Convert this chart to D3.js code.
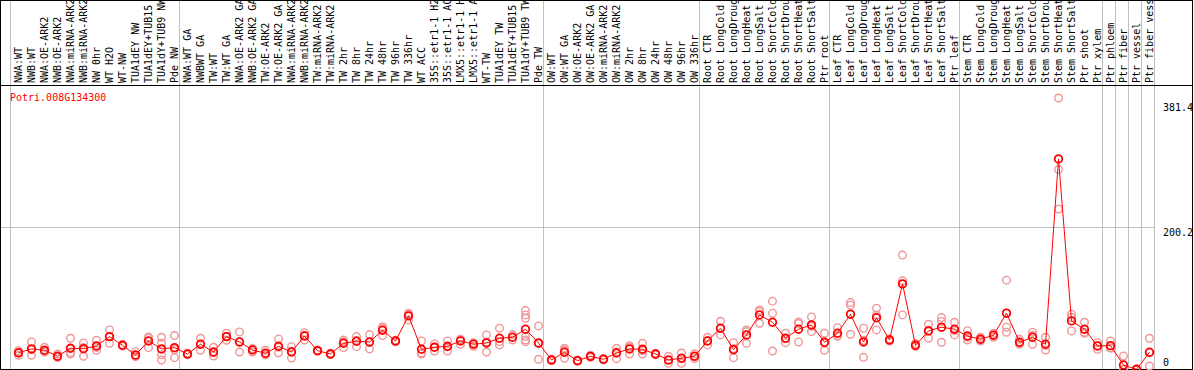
<!DOCTYPE html>
<html>
<head>
<meta charset="utf-8">
<script src="https://cdn.jsdelivr.net/npm/d3@7"></script>
<style>
  body { margin: 0; background: #fff; }
  svg { display: block; }
  text { font-family: "DejaVu Sans Mono", monospace; font-size: 10px; }
</style>
</head>
<body>
<div id="chart"></div>
<script>
const gene = "Potri.008G134300";

// sample groups, in the order they are drawn
const groupNW = ["NWA:WT", "NWB:WT", "NWA:OE-ARK2", "NWB:OE-ARK2", "NWA:miRNA-ARK2", "NWB:miRNA-ARK2",
    "NW 0hr", "WT H2O", "WT-NW", "TUA1dEY NW", "TUA1dEY+TUB15 NW", "TUA1dY+TUB9 NW", "Pde NW"];
const groupTW = ["NWA:WT GA", "NWBWT GA", "TW:WT", "TW:WT GA", "NWA:OE-ARK2 GA", "NWB:OE-ARK2 GA",
    "TW:OE-ARK2", "TW:OE-ARK2 GA", "NWA:miRNA-ARK2", "NWB:miRNA-ARK2", "TW:miRNA-ARK2", "TW:miRNA-ARK2",
    "TW 2hr", "TW 8hr", "TW 24hr", "TW 48hr", "TW 96hr", "TW 336hr", "WT ACC",
    "35S::etr1-1 H2O", "35S::etr1-1 ACC", "LMX5::etr1-1 H2O", "LMX5::etr1-1 ACC",
    "WT-TW", "TUA1dEY TW", "TUA1dEY+TUB15 TW", "TUA1dY+TUB9 TW", "Pde TW"];
const groupOW = ["OW:WT", "OW:WT GA", "OW:OE-ARK2", "OW:OE-ARK2 GA", "OW:miRNA-ARK2", "OW:miRNA-ARK2",
    "OW 2hr", "OW 8hr", "OW 24hr", "OW 48hr", "OW 96hr", "OW 336hr"];
const groupRoot = ["Root CTR", "Root LongCold", "Root LongDrought", "Root LongHeat", "Root LongSalt",
    "Root ShortCold", "Root ShortDrought", "Root ShortHeat", "Root ShortSalt", "Ptr root"];
const groupLeaf = ["Leaf CTR", "Leaf LongCold", "Leaf LongDrought", "Leaf LongHeat", "Leaf LongSalt",
    "Leaf ShortCold", "Leaf ShortDrought", "Leaf ShortHeat", "Leaf ShortSalt", "Ptr leaf"];
const groupStem = ["Stem CTR", "Stem LongCold", "Stem LongDrought", "Stem LongHeat", "Stem LongSalt",
    "Stem ShortCold", "Stem ShortDrought", "Stem ShortHeat", "Stem ShortSalt", "Ptr shoot", "Ptr xylem"];
const groupPhloem = ["Ptr phloem"];
const groupFiber = ["Ptr fiber"];
const groupVessel = ["Ptr vessel"];
const groupFiberVessel = ["Ptr fiber vessel"];

const groups = [groupNW, groupTW, groupOW, groupRoot, groupLeaf, groupStem,
    groupPhloem, groupFiber, groupVessel, groupFiberVessel];
const categories = groups.flat();

// mean expression per sample
const means = [
    23.6, 28.9, 27.0, 18.6, 29.8, 29.3, 33.1, 46.2, 34.0, 20.4, 40.1, 28.9, 30.7,
    21.8, 35.5, 24.6, 46.2, 38.7, 27.4, 22.8, 32.6, 24.6, 47.1, 26.5, 21.8, 36.9, 39.7,
    38.7, 55.2, 40.1, 75.3, 28.4, 31.2, 32.6, 40.1, 35.5, 37.3, 43.9, 45.3, 56.6, 37.3,
    13.4, 24.2, 12.4, 18.5, 14.4, 23.2, 28.9, 28.4, 21.8, 13.4, 15.8, 18.6,
    40.1, 58.0, 27.9, 48.6, 76.7, 66.4, 43.9, 56.6, 62.6, 38.3,
    50.9, 77.7, 38.7, 72.7, 41.5, 120.3, 34.0, 54.2, 59.4, 56.6,
    47.1, 42.5, 48.1, 79.1, 38.3, 45.3, 35.5, 295.8, 68.3, 56.6, 33.1,
    33.5, 6.3, 0.3, 24.2
];

// individual replicates per sample
const replicates = [
    [26.5, 20, 23], [38.7, 20, 28], [31.2, 24.6, 25], [21.8, 17.1, 17], [43.9, 21.8, 24],
    [37.3, 18.6, 31], [41.1, 27, 31], [55.6, 36.9, 46], [35, 33, 34], [25, 18, 18.5],
    [45.7, 30.7, 44], [45.3, 36.9, 20.8, 13.4], [47.6, 16.6, 28],
    [23, 20.5, 22], [43.9, 27, 35.5], [31.2, 19, 23.5], [50.9, 41.1, 46.5], [52.8, 24.6, 38.7],
    [29.5, 24.5, 28], [27, 20.5, 21], [42.9, 23.6, 31.3], [32.1, 16.2, 25.5], [51.8, 41.5, 48],
    [27.5, 25.5, 26.5], [23, 21, 21.5], [38.7, 30.7, 41.3], [46.2, 32.1, 40.8], [49, 28.9, 38.2],
    [60.2, 47.6, 57.8], [41, 39, 40.3], [79.1, 69.7, 77.1], [40.1, 21.8, 23.3], [35.9, 26, 31.7],
    [40.1, 26, 31.7], [42.5, 35.5, 42.3], [37.5, 32.5, 36.5], [48.6, 24.6, 38.7], [58, 34.5, 39.2],
    [49, 41.5, 45.4], [82.8, 76.7, 72.0, 46.2, 41.5, 39.1], [61.2, 14.4, 36.3],
    [14.5, 12.5, 13.2], [29.8, 15.8, 27], [13.5, 11.5, 12.2], [20, 17, 18.5], [15.5, 13.5, 14.2],
    [29.8, 15.2, 24.6], [33.5, 21.8, 31.4], [36.9, 21.8, 26.5], [23, 20.5, 22], [18.5, 8.7, 13],
    [23.2, 8.7, 15.5], [22, 15.5, 18.3],
    [45.3, 34.5, 40.5], [67.8, 48.6, 57.6], [37.7, 16.6, 29.4], [55.6, 36.9, 53.3], [83.7, 65, 81.4],
    [96, 79.1, 26], [50.9, 37.7, 43.1], [66.9, 64.5, 38.7], [73.9, 53.2, 60.7], [50.9, 27, 37],
    [58.8, 46.6, 47.3], [94, 90.4, 49.5], [58, 17.1, 41], [86.1, 55.6, 76.4], [43, 40, 41.5],
    [160.7, 124.6, 76.7], [33, 32.5, 36.5], [63.6, 43.9, 55.1], [72.9, 67.5, 38.3], [66.4, 48.6, 54.8],
    [54.6, 45.2, 41.5], [45.3, 40, 42.2], [50.9, 45.3, 48.1], [125.5, 59.4, 52.4], [42.5, 35.5, 37],
    [52.4, 48.0, 35.5], [45.3, 27.4, 33.8], [381.4, 280.8, 225.5], [77.7, 54.2, 73], [66.4, 50.9, 52.5],
    [37.7, 28.4, 33.2],
    [40.1, 30, 30.4], [19, 0, 0], [0, 0.5, 0.4], [43.9, 4.9, 23.8]
];

const yTicks = [0, 200.2, 381.4];

const width = 1194;
const height = 370;
const plotLeft = 11, plotRight = 1155; // band area
const headerBottom = 85.5;              // line under the rotated labels
const plotBottom = 369.5;

const gridColor = "#c0c0c0";

const svg = d3.select("#chart")
    .append("svg")
    .attr("width", width)
    .attr("height", height);

// one band per sample
const xScale = d3.scaleBand()
    .domain(d3.range(categories.length))
    .range([plotLeft, plotRight]);

const cx = i => xScale(i) + 7.5;

const yScale = d3.scaleLinear()
    .domain([0, d3.max(yTicks)])
    .range([plotBottom, 98]);

// group separators, running through the header too
let start = 0;
const separators = [];
groups.forEach(g => { separators.push(start); start += g.length; });
separators.push(start);

svg.append("g")
    .selectAll("line")
    .data(separators)
    .join("line")
    .attr("x1", d => (d < categories.length ? xScale(d) : plotRight) - 0.5)
    .attr("x2", d => (d < categories.length ? xScale(d) : plotRight) - 0.5)
    .attr("y1", 0)
    .attr("y2", plotBottom)
    .attr("stroke", gridColor)
    .attr("shape-rendering", "crispEdges");

// horizontal grid line at the middle tick
svg.append("g")
    .selectAll("line")
    .data(yTicks.filter(t => t > 0 && t < d3.max(yTicks)))
    .join("line")
    .attr("x1", 0)
    .attr("x2", plotRight)
    .attr("y1", d => Math.round(yScale(d)) + 0.5)
    .attr("y2", d => Math.round(yScale(d)) + 0.5)
    .attr("stroke", gridColor)
    .attr("shape-rendering", "crispEdges");

// tick values on the right
svg.append("g")
    .selectAll("text")
    .data(yTicks)
    .join("text")
    .attr("x", 1163)
    .attr("y", d => Math.max(111, Math.min(366, yScale(d) + 9)))
    .attr("fill", "black")
    .text(d => d);

// rotated sample names
svg.append("g")
    .selectAll("text")
    .data(categories)
    .join("text")
    .attr("transform", (d, i) => `translate(${cx(i) + 3.5},83) rotate(-90)`)
    .attr("fill", "black")
    .text(d => d);

// outer frame and header rule
svg.append("rect")
    .attr("x", 0.5)
    .attr("y", 0.5)
    .attr("width", 1192)
    .attr("height", plotBottom - 0.5)
    .attr("fill", "none")
    .attr("stroke", "black")
    .attr("shape-rendering", "crispEdges");

svg.append("line")
    .attr("x1", 0)
    .attr("x2", 1193)
    .attr("y1", headerBottom)
    .attr("y2", headerBottom)
    .attr("stroke", "black")
    .attr("shape-rendering", "crispEdges");

// gene id
svg.append("text")
    .attr("x", 10)
    .attr("y", 101)
    .attr("fill", "red")
    .text(gene);

// replicate circles
const repPoints = replicates.flatMap((r, i) => r.map(v => ({ i, v })));
svg.append("g")
    .selectAll("circle")
    .data(repPoints)
    .join("circle")
    .attr("cx", d => cx(d.i))
    .attr("cy", d => yScale(d.v))
    .attr("r", 3.8)
    .attr("fill", "none")
    .attr("stroke", "#f09696")
    .attr("stroke-width", 1.4);

// mean line
const line = d3.line()
    .x((d, i) => cx(i))
    .y(d => yScale(d));

svg.append("path")
    .datum(means)
    .attr("d", line)
    .attr("fill", "none")
    .attr("stroke", "red")
    .attr("stroke-width", 1);

// mean circles
svg.append("g")
    .selectAll("circle")
    .data(means)
    .join("circle")
    .attr("cx", (d, i) => cx(i))
    .attr("cy", d => yScale(d))
    .attr("r", 3.8)
    .attr("fill", "none")
    .attr("stroke", "red")
    .attr("stroke-width", 1.8);
</script>
</body>
</html>
